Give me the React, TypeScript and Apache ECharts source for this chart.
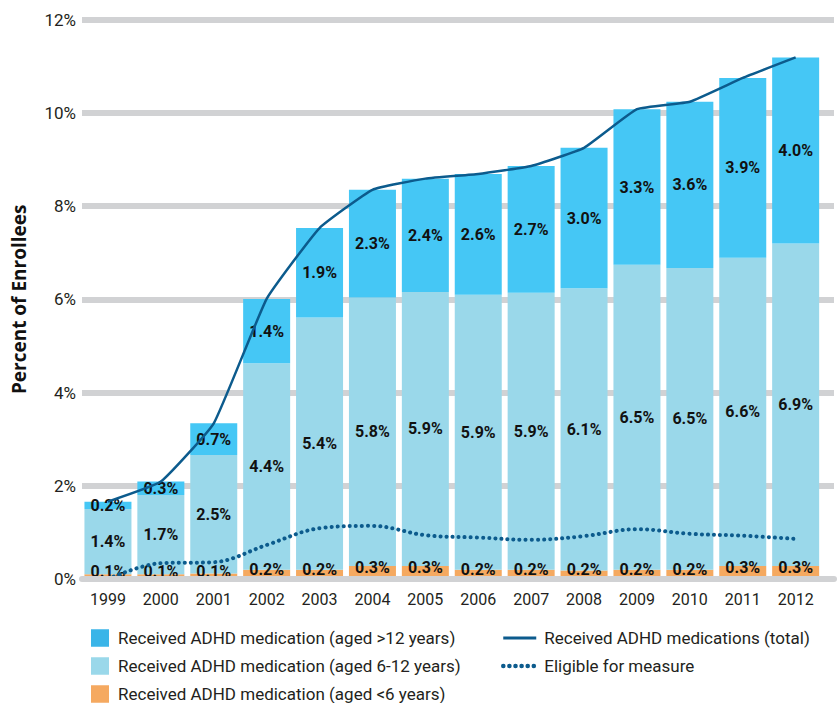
import React, { useEffect, useRef } from "react";
import * as echarts from "echarts";

const years = ["1999", "2000", "2001", "2002", "2003", "2004", "2005", "2006", "2007", "2008", "2009", "2010", "2011", "2012"];
const under6 = [0.1, 0.1, 0.12, 0.2, 0.2, 0.28, 0.28, 0.2, 0.2, 0.18, 0.2, 0.2, 0.28, 0.28];
const aged6to12 = [1.4, 1.7, 2.54, 4.43, 5.41, 5.76, 5.88, 5.9, 5.94, 6.06, 6.54, 6.47, 6.61, 6.92];
const over12 = [0.16, 0.29, 0.68, 1.38, 1.92, 2.31, 2.43, 2.59, 2.72, 3.01, 3.34, 3.57, 3.86, 3.99];
const total = [1.66, 2.09, 3.34, 6.01, 7.53, 8.35, 8.59, 8.69, 8.86, 9.25, 10.08, 10.24, 10.75, 11.19];
const eligible = [0.0, 0.34, 0.36, 0.73, 1.09, 1.14, 0.94, 0.89, 0.84, 0.92, 1.07, 0.97, 0.93, 0.86];
const yTicks = { min: 0, max: 12, interval: 2 };

const names = {
  over: "Received ADHD medication (aged >12 years)",
  mid: "Received ADHD medication (aged 6-12 years)",
  under: "Received ADHD medication (aged <6 years)",
  total: "Received ADHD medications (total)",
  elig: "Eligible for measure",
};

const FONT = "Roboto";
const LINE = "#0c5b8d";
const GRID = "#d1d2d4";
const TEXT = "#231f20";

export default function App() {
  const ref = useRef<HTMLDivElement>(null);
  useEffect(() => {
    document.body.style.margin = "0";
    document.body.style.overflow = "hidden";
    if (!ref.current) return;
    const chart = echarts.init(ref.current, null, { renderer: "svg" });
    const barLabel = (offsetY: number) => ({
      show: true,
      position: "inside",
      offset: [0, offsetY],
      formatter: (p: any) => Number(p.value).toFixed(1) + "%",
      color: "#111",
      fontFamily: FONT,
      fontWeight: "bold",
      fontSize: 16,
    });
    chart.setOption({
      animation: false,
      textStyle: { fontFamily: FONT },
      grid: [
        { left: 81.5, right: 15.9, top: 19.7, bottom: 124, containLabel: false },
        { left: 82, right: 4, top: 19.7, bottom: 124, containLabel: false },
      ],
      legend: [
        {
          orient: "vertical",
          left: 91,
          top: 629,
          padding: 0,
          itemWidth: 18,
          itemHeight: 17.5,
          itemGap: 10,
          icon: "rect",
          textStyle: { fontFamily: FONT, fontSize: 17, lineHeight: 18, color: TEXT, padding: [0, 0, 0, 4] },
          data: [
            { name: names.over, itemStyle: { color: "#3ab5e8" } },
            { name: names.mid },
            { name: names.under },
          ],
          selectedMode: false,
        },
        {
          orient: "vertical",
          left: 501,
          top: 629,
          padding: 0,
          itemWidth: 33,
          itemHeight: 17.5,
          itemGap: 10,
          itemStyle: { opacity: 0 },
          textStyle: { fontFamily: FONT, fontSize: 17, lineHeight: 18, color: TEXT, padding: [0, 0, 0, 3] },
          data: [
            { name: names.total, lineStyle: { width: 3, color: LINE } },
            { name: names.elig, lineStyle: { width: 4.5, color: LINE, type: [0.1, 6], cap: "round" } },
          ],
          selectedMode: false,
        },
      ],
      xAxis: [
        {
          type: "category",
          gridIndex: 0,
          data: years,
          axisLine: { show: false },
          axisTick: { show: false },
          axisLabel: { margin: 12, fontSize: 16, color: TEXT, fontFamily: FONT },
        },
        {
          type: "value",
          gridIndex: 1,
          min: 0,
          max: 1,
          z: 10,
          axisLine: { show: true, lineStyle: { color: GRID, width: 6 } },
          axisTick: { show: false },
          axisLabel: { show: false },
          splitLine: { show: false },
        },
      ],
      yAxis: [
        {
          type: "value",
          gridIndex: 0,
          ...yTicks,
          show: false,
          splitLine: { show: false },
        },
        {
          type: "value",
          gridIndex: 1,
          ...yTicks,
          axisLine: { show: false },
          axisTick: { show: false },
          axisLabel: { formatter: "{value}%", margin: 6, fontSize: 17, color: TEXT, fontFamily: FONT },
          splitLine: { show: true, lineStyle: { color: GRID, width: 6 } },
          name: "Percent of Enrollees",
          nameLocation: "middle",
          nameGap: 54,
          nameTextStyle: { fontFamily: "Open Sans", fontWeight: "bold", fontSize: 19, color: "#111" },
        },
      ],
      series: [
        {
          name: names.under,
          type: "bar",
          stack: "a",
          barWidth: 47,
          data: under6,
          itemStyle: { color: "#f5a960" },
          label: barLabel(-5),
        },
        {
          name: names.mid,
          type: "bar",
          stack: "a",
          barWidth: 47,
          data: aged6to12,
          itemStyle: { color: "#9ad8ea" },
          label: barLabel(0),
        },
        {
          name: names.over,
          type: "bar",
          stack: "a",
          barWidth: 47,
          data: over12,
          itemStyle: { color: "#45c7f5" },
          label: barLabel(0),
        },
        {
          name: names.total,
          type: "line",
          data: total,
          symbol: "none",
          smooth: 0.12,
          z: 5,
          lineStyle: { color: LINE, width: 2.5 },
          itemStyle: { color: LINE },
        },
        {
          name: names.elig,
          type: "line",
          data: eligible,
          symbol: "none",
          smooth: 0.35,
          z: 5,
          lineStyle: { color: LINE, width: 4, type: [0.1, 6], cap: "round" },
          itemStyle: { color: LINE },
        },
      ],
    });
    return () => chart.dispose();
  }, []);
  return <div ref={ref} style={{ width: 838, height: 703 }} />;
}
